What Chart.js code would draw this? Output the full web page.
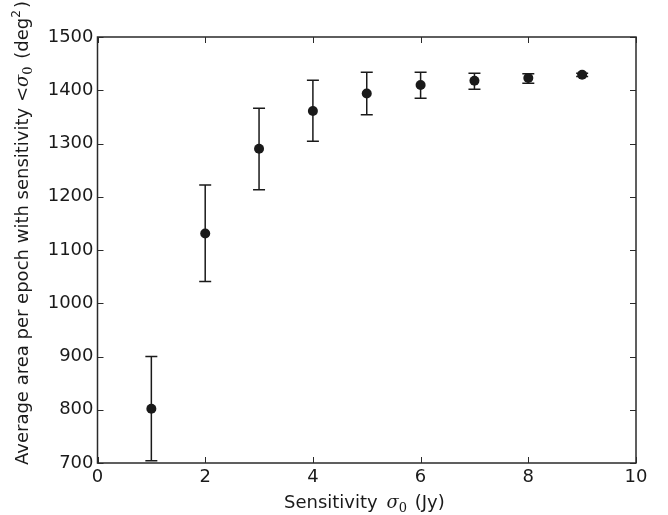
<!DOCTYPE html>
<html>
<head>
<meta charset="utf-8">
<script src="https://cdn.jsdelivr.net/npm/chart.js@4.4.0/dist/chart.umd.min.js"></script>
<style>
html,body{margin:0;padding:0;background:#fff;}
#wrap{width:668px;height:515px;}
</style>
</head>
<body>
<div id="wrap"><canvas id="c" width="668" height="515"></canvas></div>
<script>
const sensitivity = [1, 2, 3, 4, 5, 6, 7, 8, 9];
const avgArea    = [802, 1131, 1290, 1361, 1394, 1410, 1418, 1423, 1429];
const errUpper   = [900, 1222, 1366, 1419, 1434, 1434, 1432, 1431, 1432];
const errLower   = [704, 1041, 1213, 1304, 1354, 1385, 1402, 1413, 1426];
const xTicks = [0, 2, 4, 6, 8, 10];
const yTicks = [700, 800, 900, 1000, 1100, 1200, 1300, 1400, 1500];

const xTitleParts = [
  {t: 'Sensitivity '},
  {t: 'σ', math: true, gap: 3},
  {t: '0', sub: true},
  {t: ' (Jy)'}
];
const yTitleParts = [
  {t: 'Average area per epoch with sensitivity <'},
  {t: 'σ', math: true, gap: 0},
  {t: '0', sub: true},
  {t: ' (deg'},
  {t: '2', sup: true},
  {t: ')'}
];

const FONT = "'DejaVu Sans', sans-serif";
const INK = '#1a1a1a';

function drawParts(ctx, parts, x, y) {
  let cx = x;
  parts.forEach(p => {
    let dy = 0;
    if (p.math) { ctx.font = "italic 18px 'DejaVu Serif', serif"; cx += p.gap || 0; }
    else if (p.sub) { ctx.font = "13px 'DejaVu Serif', serif"; dy = 4; }
    else if (p.sup) { ctx.font = "12px 'DejaVu Sans', sans-serif"; dy = -8; }
    else ctx.font = "18px 'DejaVu Sans', sans-serif";
    ctx.fillText(p.t, cx, y + dy);
    cx += ctx.measureText(p.t).width + (p.sub || p.sup ? 2 : 0);
  });
}

const framePlugin = {
  id: 'frameAndErrors',
  afterDatasetsDraw(chart) {
    const ctx = chart.ctx;
    const xs = chart.scales.x, ys = chart.scales.y;
    const a = chart.chartArea;
    ctx.save();
    // error bars
    ctx.strokeStyle = INK;
    ctx.lineWidth = 1.5;
    for (let i = 0; i < sensitivity.length; i++) {
      const px = xs.getPixelForValue(sensitivity[i]);
      const pt = ys.getPixelForValue(errUpper[i]);
      const pb = ys.getPixelForValue(errLower[i]);
      ctx.beginPath();
      ctx.moveTo(px, pt); ctx.lineTo(px, pb);
      ctx.moveTo(px - 6, pt); ctx.lineTo(px + 6, pt);
      ctx.moveTo(px - 6, pb); ctx.lineTo(px + 6, pb);
      ctx.stroke();
    }
    // frame
    ctx.strokeStyle = '#2a2a2a';
    ctx.lineWidth = 1.5;
    ctx.strokeRect(a.left, a.top, a.right - a.left, a.bottom - a.top);
    // inward ticks
    ctx.lineWidth = 1;
    const TL = 6;
    ctx.beginPath();
    xTicks.forEach(v => {
      const p = Math.round(xs.getPixelForValue(v)) + 0.5;
      ctx.moveTo(p, a.bottom); ctx.lineTo(p, a.bottom - TL);
      ctx.moveTo(p, a.top); ctx.lineTo(p, a.top + TL);
    });
    yTicks.forEach(v => {
      const p = Math.round(ys.getPixelForValue(v)) + 0.5;
      ctx.moveTo(a.left, p); ctx.lineTo(a.left + TL, p);
      ctx.moveTo(a.right, p); ctx.lineTo(a.right - TL, p);
    });
    ctx.stroke();
    // axis titles (real text, with italic sigma and sub/superscripts)
    ctx.fillStyle = INK;
    ctx.textAlign = 'left';
    ctx.textBaseline = 'alphabetic';
    drawParts(ctx, xTitleParts, 284, 508);
    ctx.save();
    ctx.translate(28, 465);
    ctx.rotate(-Math.PI / 2);
    drawParts(ctx, yTitleParts, 0, 0);
    ctx.restore();
    ctx.restore();
  }
};

new Chart(document.getElementById('c'), {
  type: 'scatter',
  data: {
    datasets: [{
      data: sensitivity.map((x, i) => ({x: x, y: avgArea[i]})),
      backgroundColor: INK,
      borderColor: INK,
      pointRadius: 5,
      pointHoverRadius: 5,
      borderWidth: 0
    }]
  },
  options: {
    responsive: false,
    animation: false,
    devicePixelRatio: 1,
    layout: { padding: { left: 0, right: 32, top: 37, bottom: 0 } },
    plugins: { legend: { display: false }, tooltip: { enabled: false } },
    scales: {
      x: {
        type: 'linear', min: 0, max: 10,
        afterBuildTicks: s => { s.ticks = xTicks.map(v => ({value: v})); },
        afterFit: s => { s.height = 52; },
        grid: { display: false, drawTicks: false },
        border: { display: false },
        ticks: { color: INK, font: { family: FONT, size: 18 }, padding: 4, maxRotation: 0,
                 callback: v => String(v) }
      },
      y: {
        type: 'linear', min: 700, max: 1500,
        afterBuildTicks: s => { s.ticks = yTicks.map(v => ({value: v})); },
        afterFit: s => { s.width = 97.5; },
        grid: { display: false, drawTicks: false },
        border: { display: false },
        ticks: { color: INK, font: { family: FONT, size: 18 }, padding: 4,
                 callback: v => String(v) }
      }
    }
  },
  plugins: [framePlugin]
});
</script>
</body>
</html>
